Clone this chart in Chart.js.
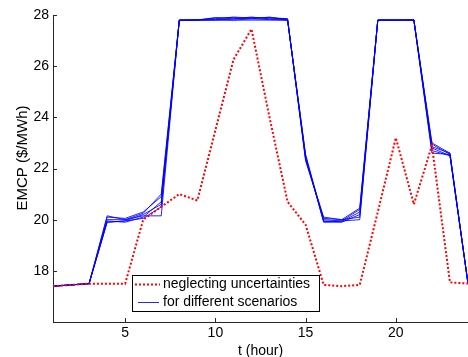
<!DOCTYPE html>
<html>
<head>
<meta charset="utf-8">
<script src="https://cdn.jsdelivr.net/npm/chart.js@4"></script>
<style>
html,body{margin:0;padding:0;background:#fff;overflow:hidden;width:468px;height:357px;}
canvas{display:block;}
</style>
</head>
<body>
<canvas id="c" width="468" height="357"></canvas>
<script>
const hours = [1,2,3,4,5,6,7,8,9,10,11,12,13,14,15,16,17,18,19,20,21,22,23,24];
const xTicks = [5,10,15,20];
const yTicks = [18,20,22,24,26,28];
const neglecting = [17.4,17.45,17.5,17.5,17.5,20.0,20.5,21.0,20.75,23.5,26.25,27.45,24.0,20.7,19.8,17.45,17.4,17.45,20.3,23.2,20.6,22.9,17.55,17.5];
const scenario1 = [17.4,17.45,17.5,20.15,20.0,20.15,20.15,27.8,27.8,27.8,27.8,27.8,27.8,27.8,22.4,20.0,19.95,20.0,27.8,27.8,27.8,22.95,22.55,17.5];
const scenario2 = [17.4,17.45,17.5,19.9,19.95,20.2,20.6,27.78,27.8,27.9,27.85,27.92,27.85,27.82,22.5,19.9,19.9,20.2,27.8,27.8,27.8,22.7,22.5,17.5];
const scenario3 = [17.4,17.45,17.5,20.1,20.05,20.3,20.9,27.8,27.82,27.85,27.92,27.88,27.9,27.85,22.3,20.05,20.0,20.45,27.8,27.8,27.82,23.0,22.6,17.5];
const scenario4 = [17.4,17.45,17.5,19.95,19.9,20.1,20.7,27.8,27.8,27.88,27.9,27.85,27.92,27.8,22.55,19.95,19.92,20.3,27.8,27.8,27.8,22.6,22.55,17.5];
const scenario5 = [17.4,17.45,17.5,20.0,20.0,20.25,21.0,27.8,27.8,27.8,27.85,27.9,27.88,27.85,22.35,20.1,20.0,20.1,27.8,27.8,27.8,22.85,22.6,17.5];
const scenario6 = [17.4,17.45,17.5,19.9,19.95,20.05,20.5,27.8,27.8,27.82,27.8,27.85,27.82,27.8,22.45,19.92,19.95,20.4,27.8,27.8,27.8,22.8,22.5,17.5];
const scenarios = [scenario1,scenario2,scenario3,scenario4,scenario5,scenario6];
const legendLabels = ['neglecting uncertainties','for different scenarios'];
const xTitle = 't (hour)';
const yTitle = 'EMCP ($/MWh)';

const FONT = "'Liberation Sans', Arial, Helvetica, sans-serif";
const RED = '#ff0000';
const BLUE = 'rgba(0,0,255,0.85)';
const AXIS = '#262626';

const toPts = vals => hours.map((h,i)=>({x:h,y:vals[i]}));

const datasets = [{
  label: legendLabels[0],
  data: toPts(neglecting),
  borderColor: RED,
  borderWidth: 2,
  borderDash: [2,2],
  pointRadius: 0,
  fill: false,
  tension: 0
}];
scenarios.forEach((s,i)=>datasets.push({
  label: legendLabels[1] + ' ' + (i+1),
  data: toPts(s),
  borderColor: BLUE,
  borderWidth: 1,
  pointRadius: 0,
  fill: false,
  tension: 0
}));

const overlay = {
  id: 'overlay',
  afterDraw(chart){
    const {ctx, chartArea:a, scales:{x,y}} = chart;
    ctx.save();
    ctx.strokeStyle = AXIS;
    ctx.lineWidth = 1;
    ctx.setLineDash([]);
    y.ticks.forEach(t=>{
      const py = Math.round(y.getPixelForValue(t.value)) + 0.5;
      ctx.beginPath(); ctx.moveTo(a.left, py); ctx.lineTo(a.left+4, py); ctx.stroke();
    });
    x.ticks.forEach(t=>{
      const px = Math.round(x.getPixelForValue(t.value)) + 0.5;
      ctx.beginPath(); ctx.moveTo(px, a.bottom); ctx.lineTo(px, a.bottom-4); ctx.stroke();
    });
    // legend
    const bx = 132.5, by = 275.5, bw = 187, bh = 36;
    ctx.fillStyle = '#fff';
    ctx.fillRect(bx, by, bw, bh);
    ctx.strokeStyle = '#000';
    ctx.strokeRect(bx, by, bw, bh);
    const r1 = 284.5, r2 = 302.5;
    ctx.strokeStyle = RED; ctx.lineWidth = 2; ctx.setLineDash([2,2]);
    ctx.beginPath(); ctx.moveTo(135, r1); ctx.lineTo(160, r1); ctx.stroke();
    ctx.strokeStyle = BLUE; ctx.lineWidth = 1; ctx.setLineDash([]);
    ctx.beginPath(); ctx.moveTo(138, r2); ctx.lineTo(159, r2); ctx.stroke();
    ctx.fillStyle = '#000';
    ctx.font = '14px ' + FONT;
    ctx.textAlign = 'left'; ctx.textBaseline = 'middle';
    ctx.fillText(legendLabels[0], 163, r1);
    ctx.fillText(legendLabels[1], 163, r2);
    // y title
    ctx.translate(23, 158);
    ctx.rotate(-Math.PI/2);
    ctx.textAlign = 'center';
    ctx.font = '15px ' + FONT;
    ctx.fillText(yTitle, 0, 0);
    ctx.restore();
  }
};

new Chart(document.getElementById('c'), {
  type: 'line',
  data: { datasets },
  options: {
    responsive: false,
    animation: false,
    devicePixelRatio: 1,
    layout: { padding: { left: 0, right: 0, top: 15, bottom: 0 } },
    plugins: { legend: { display: false }, tooltip: { enabled: false } },
    scales: {
      x: {
        type: 'linear', min: 1, max: 24,
        afterBuildTicks: s => { s.ticks = xTicks.map(v=>({value:v})); },
        afterFit: s => { s.height = 35; },
        grid: { display: false, drawTicks: false },
        border: { display: true, color: AXIS, width: 1 },
        ticks: { color: '#000', font: { family: FONT, size: 14 }, padding: 3, maxRotation: 0 },
        title: { display: true, text: xTitle, color: '#000', font: { family: FONT, size: 14 }, padding: { top: 0, bottom: -3 } }
      },
      y: {
        type: 'linear', min: 16, max: 28,
        afterBuildTicks: s => { s.ticks = yTicks.map(v=>({value:v})); },
        afterFit: s => { s.width = 53; },
        grid: { display: false, drawTicks: false },
        border: { display: true, color: AXIS, width: 1 },
        ticks: { color: '#000', font: { family: FONT, size: 14 }, padding: 4 }
      }
    }
  },
  plugins: [overlay]
});
</script>
</body>
</html>
